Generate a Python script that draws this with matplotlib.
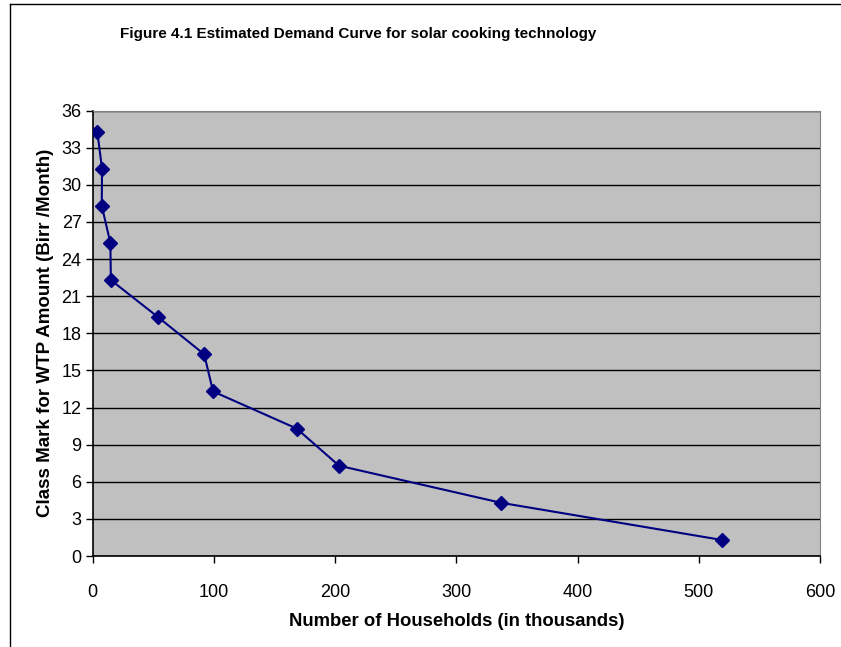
import matplotlib.pyplot as plt
from matplotlib.lines import Line2D

plt.rcParams['font.family'] = ['Liberation Sans', 'DejaVu Sans']

# Данные
households = [3.8, 7.7, 7.5, 14.6, 15.0, 54.0, 92.0, 99.3, 168.3, 203.2, 337.0, 519.0]
wtp = [34.3, 31.3, 28.3, 25.3, 22.3, 19.3, 16.3, 13.3, 10.3, 7.3, 4.3, 1.3]
x_ticks = [0, 100, 200, 300, 400, 500, 600]
y_ticks = [0, 3, 6, 9, 12, 15, 18, 21, 24, 27, 30, 33, 36]

fig = plt.figure(figsize=(8.41, 6.47), dpi=100)
ax = fig.add_axes([0.1102, 0.1406, 0.8648, 0.6886])
ax.set_facecolor('#C0C0C0')

ax.plot(households, wtp, color='#000080', linewidth=1.5,
        marker='D', markersize=7, markerfacecolor='#000080',
        markeredgecolor='#000080', zorder=3)

ax.set_xlim(0, 600)
ax.set_ylim(0, 36)
ax.set_xticks(x_ticks)
ax.set_yticks(y_ticks)
ax.yaxis.grid(True, color='black', linewidth=1.0)
ax.set_axisbelow(True)

ax.tick_params(axis='both', direction='out', length=5, width=1, labelsize=13)
ax.tick_params(axis='x', pad=15)
ax.tick_params(axis='y', pad=3)

for side in ['top', 'right']:
    ax.spines[side].set_color('#808080')
for side in ['left', 'bottom']:
    ax.spines[side].set_color('black')
    ax.spines[side].set_linewidth(1.2)

ax.set_xlabel('Number of Households (in thousands)', fontsize=13.3,
              fontweight='bold', labelpad=9)
ax.set_ylabel('Class Mark for WTP Amount (Birr /Month)', fontsize=13.5,
              fontweight='bold', labelpad=5)

fig.text(0.1427, 0.947, 'Figure 4.1 Estimated Demand Curve for solar cooking technology',
         fontsize=11, fontweight='bold', va='center', ha='left')

# рамка диаграммы (слева и сверху)
fig.add_artist(Line2D([0.0119, 0.0119], [0.0, 0.9935], color='black',
                      linewidth=1, transform=fig.transFigure))
fig.add_artist(Line2D([0.0119, 1.0], [0.9935, 0.9935], color='black',
                      linewidth=1, transform=fig.transFigure))

fig.savefig('out.png', dpi=100)
